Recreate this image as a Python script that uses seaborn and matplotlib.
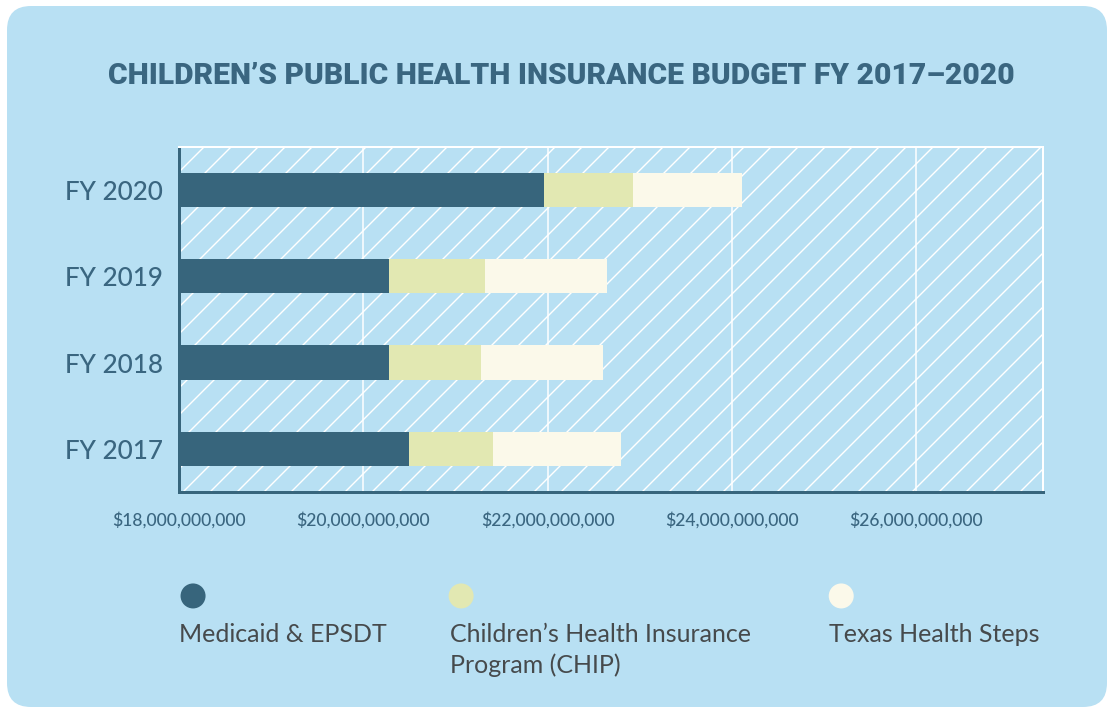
import matplotlib
matplotlib.use("Agg")
import matplotlib.pyplot as plt
from matplotlib.patches import Rectangle, FancyBboxPatch, Ellipse
from matplotlib.transforms import IdentityTransform
from matplotlib.ticker import FuncFormatter, FixedLocator
import seaborn as sns
import pandas as pd

# ---------------- data ----------------
years = ["FY 2020", "FY 2019", "FY 2018", "FY 2017"]
medicaid = [21.96e9, 20.28e9, 20.28e9, 20.50e9]
chip = [0.965e9, 1.04e9, 1.00e9, 0.91e9]
texas_steps = [1.19e9, 1.33e9, 1.32e9, 1.39e9]
series_names = ["Medicaid & EPSDT", "Children\u2019s Health Insurance\nProgram (CHIP)", "Texas Health Steps"]
x_ticks = [18e9, 20e9, 22e9, 24e9, 26e9]
x_min, x_max = 18e9, 27.38e9
title = "CHILDREN\u2019S PUBLIC HEALTH INSURANCE BUDGET FY 2017\u20132020"

# ---------------- style ----------------
DPI = 162
W, H = 1114, 713
PT = 72 / DPI  # px -> pt

BG = "#b8e0f3"
C_MED = "#37657c"
C_CHIP = "#e2e8b2"
C_THS = "#fbf9ea"
TXT = "#3a6680"
LEG_TXT = "#464a4c"

sns.set_theme(style="white")
plt.rcParams["font.family"] = ["Lato", "DejaVu Sans"]
plt.rcParams["hatch.linewidth"] = 1.4 * PT
plt.rcParams["hatch.color"] = "white"

fig = plt.figure(figsize=((W + 0.3) / DPI, (H + 0.3) / DPI), dpi=DPI)
fig.patch.set_facecolor("white")

# rounded card
card = FancyBboxPatch((7, 6), W - 14, H - 12,
                      boxstyle="round,pad=0,rounding_size=24",
                      transform=IdentityTransform(), facecolor=BG,
                      edgecolor="none", zorder=-10)
fig.patches.append(card)

left_px, right_px, top_px, bot_px = 179, 1043, 147, 492
ax = fig.add_axes([left_px / W, 1 - bot_px / H, (right_px - left_px) / W, (bot_px - top_px) / H])
ax.set_zorder(1)
ax.set_facecolor(BG)
ax.add_patch(Rectangle((0, 0), 1, 1, transform=ax.transAxes, facecolor="none",
                       edgecolor="white", hatch="//", linewidth=0, zorder=0))

cum2 = [m + c for m, c in zip(medicaid, chip)]
cum3 = [m + c + t for m, c, t in zip(medicaid, chip, texas_steps)]
df = pd.DataFrame({"year": years, "med": medicaid, "cum2": cum2, "cum3": cum3})

for col, colr in [("cum3", C_THS), ("cum2", C_CHIP), ("med", C_MED)]:
    sns.barplot(data=df, x=col, y="year", order=years, orient="h", color=colr,
                saturation=1, width=0.4, linewidth=0, ax=ax, zorder=3)

ax.set_xlim(x_min, x_max)
ax.set_ylim(3.5, -0.5)
ax.set_xlabel("")
ax.set_ylabel("")
ax.xaxis.set_major_locator(FixedLocator(x_ticks))
ax.xaxis.set_major_formatter(FuncFormatter(lambda v, p: "${:,.0f}".format(v)))
ax.grid(axis="x", color="white", linewidth=1.5 * PT, zorder=1)
ax.grid(axis="y", visible=False)
ax.set_axisbelow(True)
ax.tick_params(axis="x", length=0, pad=20 * PT, labelsize=17.5 * PT, labelcolor=TXT)
ax.tick_params(axis="y", length=0, pad=16 * PT, labelsize=26 * PT, labelcolor=TXT)
for lbl in ax.get_xticklabels() + ax.get_yticklabels():
    lbl.set_fontweight("medium")

for s in ["left", "bottom"]:
    ax.spines[s].set_color(C_MED)
    ax.spines[s].set_linewidth(3 * PT)
for s in ["top", "right"]:
    ax.spines[s].set_color("white")
    ax.spines[s].set_linewidth(2 * PT)

# title
fig.text(561 / W, 1 - 76 / H, title, ha="center", va="center",
         fontsize=30 * PT, fontweight="heavy", color=TXT,
         family=["Roboto", "DejaVu Sans"])

# legend
leg_cx = [193, 461, 841]
leg_tx = [179, 450, 829]
for cx, tx, colr, name in zip(leg_cx, leg_tx, [C_MED, C_CHIP, C_THS], series_names):
    fig.patches.append(Ellipse((cx / W, 1 - 596 / H), 25 / W, 25 / H,
                               transform=fig.transFigure, facecolor=colr,
                               edgecolor="none", zorder=2))
    fig.text(tx / W, 1 - 623 / H, name, ha="left", va="top",
             fontsize=25 * PT, color=LEG_TXT, linespacing=1.36)

fig.savefig("out.png", dpi=DPI, facecolor="white")
